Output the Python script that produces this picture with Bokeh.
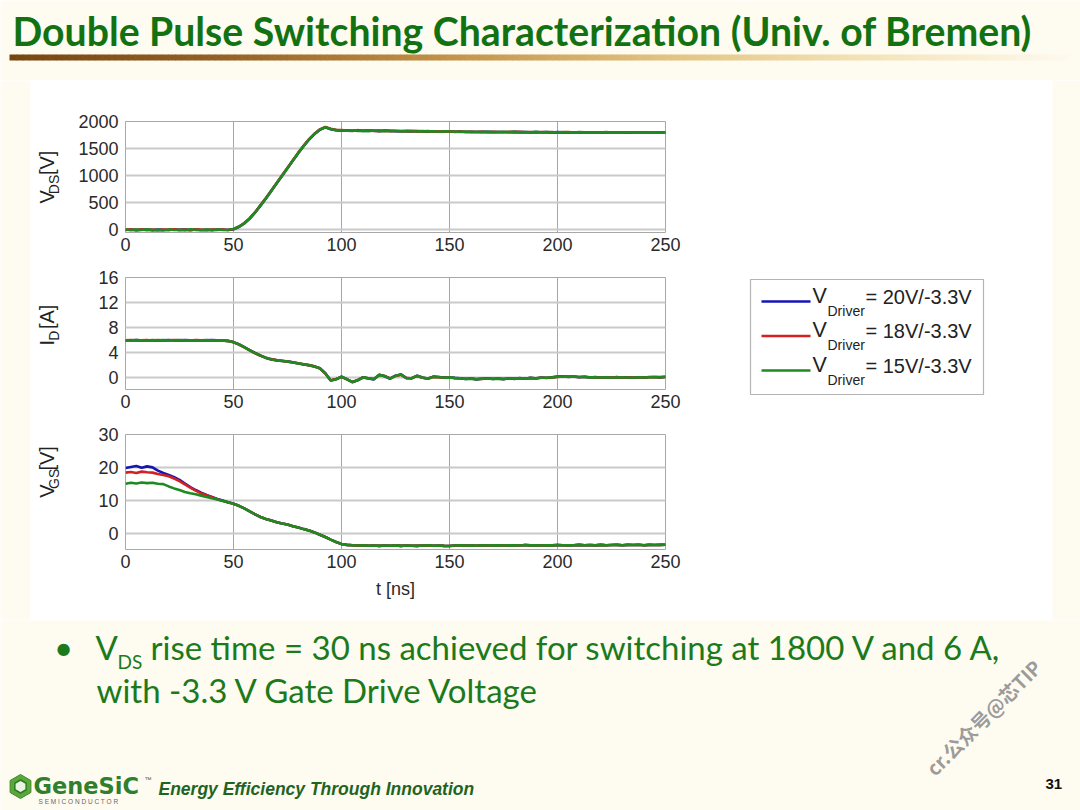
import numpy as np
from bokeh.plotting import figure
from bokeh.layouts import column, row
from bokeh.models import Range1d, FixedTicker
from bokeh.embed import file_html
from bokeh.resources import INLINE
from bokeh.core.properties import value

# ---------------- data ----------------
t_ns = [0, 2.5, 5, 7.5, 10, 12.5, 15, 17.5, 20, 22.5, 25, 27.5, 30, 32.5, 35, 37.5, 40, 42.5, 45, 47.5,
        50, 52.5, 55, 57.5, 60, 62.5, 65, 67.5, 70, 72.5, 75, 77.5, 80, 82.5, 85, 87.5, 90, 92.5, 95, 97.5,
        100, 102.5, 105, 107.5, 110, 112.5, 115, 117.5, 120, 122.5, 125, 127.5, 130, 132.5, 135, 137.5,
        140, 142.5, 145, 147.5, 150, 152.5, 155, 157.5, 160, 162.5, 165, 167.5, 170, 172.5, 175, 177.5,
        180, 182.5, 185, 187.5, 190, 192.5, 195, 197.5, 200, 202.5, 205, 207.5, 210, 212.5, 215, 217.5,
        220, 222.5, 225, 227.5, 230, 232.5, 235, 237.5, 240, 242.5, 245, 247.5, 250]

vds_15 = [5, -8, 3, -5, 8, -3, 0, -10, 6, -4, 2, -6, 9, -2, -7, 4, -3, 6, -5, 2,
          15, 55, 120, 210, 320, 450, 580, 720, 860, 1000, 1140, 1280, 1420, 1550, 1670, 1770, 1850, 1895, 1860, 1840,
          1835, 1828, 1838, 1825, 1832, 1822, 1835, 1827, 1820, 1830, 1824, 1818, 1826, 1820, 1815, 1822,
          1817, 1820, 1812, 1818, 1815, 1812, 1808, 1815, 1806, 1810, 1804, 1812, 1807, 1803, 1809, 1805,
          1811, 1800, 1806, 1802, 1808, 1799, 1805, 1801, 1798, 1806, 1800, 1796, 1803, 1799, 1795, 1801,
          1797, 1804, 1794, 1799, 1796, 1801, 1793, 1798, 1795, 1800, 1794, 1797, 1799]
vds_18 = [0, 6, -4, 7, -6, 3, -8, 4, -2, 7, -5, 3, -4, 8, 1, -6, 5, -2, 4, -3,
          12, 60, 125, 215, 325, 455, 585, 725, 865, 1005, 1145, 1285, 1425, 1555, 1675, 1775, 1855, 1898, 1865, 1845,
          1840, 1832, 1826, 1840, 1828, 1836, 1824, 1832, 1825, 1822, 1830, 1821, 1819, 1827, 1818, 1816,
          1823, 1814, 1820, 1811, 1817, 1809, 1816, 1805, 1812, 1807, 1811, 1802, 1809, 1806, 1801, 1810,
          1803, 1808, 1801, 1804, 1797, 1807, 1800, 1803, 1796, 1802, 1805, 1797, 1800, 1794, 1802, 1798,
          1800, 1795, 1802, 1797, 1792, 1800, 1796, 1794, 1799, 1793, 1798, 1796, 1795]
vds_20 = [-3, 4, -6, 2, 5, -7, 3, -2, -5, 6, -1, 4, -8, 5, -3, 2, -6, 3, 0, -4,
          10, 52, 118, 206, 318, 446, 578, 716, 858, 998, 1138, 1278, 1418, 1548, 1668, 1768, 1848, 1892, 1858, 1838,
          1832, 1836, 1829, 1834, 1826, 1831, 1828, 1823, 1833, 1826, 1820, 1825, 1822, 1817, 1824, 1819,
          1815, 1821, 1814, 1816, 1813, 1810, 1813, 1807, 1811, 1805, 1809, 1808, 1804, 1807, 1806, 1802,
          1809, 1803, 1805, 1800, 1806, 1802, 1803, 1798, 1804, 1799, 1801, 1798, 1800, 1797, 1798, 1796,
          1799, 1801, 1796, 1797, 1798, 1795, 1797, 1796, 1798, 1796, 1795, 1798, 1797]

id_15 = [5.92, 5.88, 5.95, 5.90, 5.86, 5.93, 5.89, 5.94, 5.87, 5.91, 5.96, 5.88, 5.92, 5.85, 5.90, 5.93, 5.88, 5.91, 5.86, 5.80,
         5.60, 5.25, 4.80, 4.30, 3.85, 3.45, 3.10, 2.85, 2.70, 2.60, 2.50, 2.35, 2.20, 2.05, 1.90, 1.70, 1.40, 0.60, -0.55, -0.35,
         0.05, -0.35, -0.80, -0.50, -0.05, -0.20, -0.35, 0.35, 0.15, -0.25, 0.20, 0.40, -0.15, -0.20, 0.20, -0.10,
         -0.25, 0.05, 0.00, -0.10, -0.05, -0.15, -0.20, -0.30, -0.25, -0.35, -0.28, -0.22, -0.30, -0.25, -0.32, -0.20,
         -0.28, -0.18, -0.25, -0.15, -0.20, -0.10, -0.12, -0.05, 0.05, 0.10, 0.05, 0.08, 0.00, 0.03, -0.05, -0.02,
         -0.08, -0.05, -0.10, -0.03, -0.08, -0.06, -0.10, -0.04, -0.07, -0.02, 0.00, -0.03, 0.02]
id_18 = [5.90, 5.94, 5.87, 5.92, 5.95, 5.88, 5.93, 5.86, 5.91, 5.94, 5.89, 5.92, 5.87, 5.93, 5.90, 5.86, 5.92, 5.88, 5.90, 5.78,
         5.58, 5.22, 4.78, 4.28, 3.82, 3.43, 3.12, 2.88, 2.72, 2.62, 2.48, 2.33, 2.22, 2.07, 1.88, 1.72, 1.38, 0.58, -0.52, -0.32,
         0.02, -0.38, -0.78, -0.48, -0.08, -0.18, -0.32, 0.32, 0.18, -0.22, 0.18, 0.38, -0.12, -0.22, 0.18, -0.12,
         -0.22, 0.02, -0.03, -0.12, -0.08, -0.18, -0.22, -0.28, -0.27, -0.32, -0.30, -0.24, -0.28, -0.27, -0.30, -0.22,
         -0.25, -0.20, -0.22, -0.17, -0.18, -0.12, -0.10, -0.07, 0.03, 0.08, 0.07, 0.05, 0.02, 0.00, -0.03, -0.05,
         -0.06, -0.08, -0.07, -0.05, -0.06, -0.08, -0.07, -0.06, -0.05, -0.04, -0.02, -0.01, 0.00]
id_20 = [5.88, 5.91, 5.93, 5.87, 5.90, 5.92, 5.86, 5.91, 5.93, 5.88, 5.90, 5.94, 5.89, 5.91, 5.87, 5.90, 5.93, 5.89, 5.88, 5.82,
         5.62, 5.27, 4.82, 4.32, 3.87, 3.47, 3.08, 2.83, 2.68, 2.58, 2.52, 2.37, 2.18, 2.03, 1.92, 1.68, 1.42, 0.62, -0.57, -0.37,
         0.07, -0.33, -0.82, -0.52, -0.03, -0.22, -0.37, 0.37, 0.13, -0.27, 0.22, 0.42, -0.17, -0.18, 0.22, -0.08,
         -0.27, 0.07, 0.02, -0.08, -0.03, -0.13, -0.18, -0.32, -0.23, -0.37, -0.26, -0.20, -0.32, -0.23, -0.34, -0.18,
         -0.30, -0.16, -0.27, -0.13, -0.22, -0.08, -0.14, -0.03, 0.07, 0.12, 0.03, 0.10, -0.02, 0.05, -0.07, 0.00,
         -0.10, -0.03, -0.12, -0.01, -0.10, -0.04, -0.12, -0.02, -0.09, 0.00, 0.02, -0.05, 0.04]

vgs_head_20 = [19.8, 20.1, 20.4, 19.9, 20.3, 20.0, 19.0, 18.3, 17.7, 17.0, 16.2, 15.1, 14.0, 13.1, 12.3, 11.6, 11.0, 10.4, 9.9, 9.4]
vgs_head_18 = [18.4, 18.6, 18.3, 18.7, 18.5, 18.4, 18.0, 17.7, 17.3, 16.6, 15.8, 14.8, 13.8, 12.9, 12.1, 11.5, 10.9, 10.3, 9.8, 9.3]
vgs_head_15 = [15.0, 15.3, 15.1, 15.4, 15.2, 15.3, 15.0, 14.9, 14.2, 13.6, 13.1, 12.5, 12.1, 11.8, 11.4, 11.0, 10.6, 10.2, 9.8, 9.4]
vgs_tail = [8.9, 8.3, 7.5, 6.6, 5.7, 4.9, 4.3, 3.8, 3.3, 2.9, 2.6, 2.1, 1.7, 1.2, 0.8, 0.2, -0.5, -1.2, -2.0, -2.7,
            -3.3, -3.6,
            -3.7, -3.8, -3.75, -3.85, -3.8, -3.9, -3.8, -3.85, -3.75, -3.9,
            -3.8, -3.85, -3.9, -3.8, -3.75, -3.85, -3.8, -3.9, -3.95, -3.8,
            -3.7, -3.8, -3.75, -3.85, -3.7, -3.8, -3.75, -3.7, -3.8, -3.75,
            -3.7, -3.8, -3.65, -3.75, -3.7, -3.8, -3.7, -3.75, -3.65, -3.7,
            -3.75, -3.7, -3.6, -3.7, -3.65, -3.75, -3.6, -3.7, -3.65, -3.6,
            -3.7, -3.6, -3.65, -3.55, -3.7, -3.6, -3.65, -3.6, -3.55]
vgs_20 = vgs_head_20 + vgs_tail
vgs_18 = vgs_head_18 + vgs_tail
vgs_15 = vgs_head_15 + vgs_tail

x_ticks = [0, 50, 100, 150, 200, 250]
vds_ticks = [0, 500, 1000, 1500, 2000]
id_ticks = [0, 4, 8, 12, 16]
vgs_ticks = [0, 10, 20, 30]

series_colors = ["#1515b4", "#d42020", "#1f8a1f"]
series_labels = ["= 20V/-3.3V", "= 18V/-3.3V", "= 15V/-3.3V"]

TITLE = "Double Pulse Switching Characterization (Univ. of Bremen)"
BULLET_1 = "rise time = 30 ns achieved for switching at 1800 V and 6 A,"
BULLET_2 = "with -3.3 V Gate Drive Voltage"
FOOTER = "Energy Efficiency Through Innovation"
PAGE = "31"
WATERMARK = "cr.公众号@芯TIP"

# ---------------- styling ----------------
CREAM = "#fefbf1"
WHITE = "#ffffff"
GREEN_T = "#127212"
GREEN_B = "#1b7a1b"
AX_FONT = "Liberation Sans"
BASE_K = {"Liberation Sans": 0.35, "Lato": 0.39, "DejaVu Sans": 0.35, "Noto Sans CJK SC": 0.38}


def deco_fig(w, h, x0, x1, y0, y1, bg):
    p = figure(width=w, height=h, x_range=Range1d(x0, x1), y_range=Range1d(y1, y0),
               output_backend="svg", toolbar_location=None, min_border=0,
               x_axis_location=None, y_axis_location=None, outline_line_color=None,
               background_fill_color=bg, border_fill_color=bg)
    p.grid.visible = False
    return p


def txt(p, x, y, s, size, color="#222222", font=AX_FONT, style="normal", angle=0.0,
        align="left", alpha=1.0):
    px = float(size.replace("px", ""))
    k = BASE_K.get(font, 0.35) * px
    ax = x - k * np.sin(angle)
    ay = y - k * np.cos(angle)
    p.text(x=[ax], y=[ay], text=[s], text_font=value(font), text_font_size=size,
           text_font_style=style, text_color=color, angle=angle, text_align=align,
           text_baseline="alphabetic", text_alpha=alpha)


# ---------------- title band ----------------
top = deco_fig(1080, 80, 0, 1080, 0, 80, CREAM)
txt(top, 12, 45, TITLE, "39.2px", GREEN_T, font="Lato", style="bold")
stops_pos = [0.0, 0.2, 0.42, 0.62, 0.8, 1.0]
stops_rgb = np.array([[118, 70, 18], [148, 98, 38], [196, 148, 74], [226, 196, 130], [243, 226, 182], [254, 250, 238]])
n_seg = 160
edges = np.linspace(9, 1068, n_seg + 1)
fr = (np.arange(n_seg) + 0.5) / n_seg
cols = []
for f in fr:
    rgb = [int(np.interp(f, stops_pos, stops_rgb[:, k])) for k in range(3)]
    cols.append("#%02x%02x%02x" % tuple(rgb))
top.quad(left=edges[:-1], right=edges[1:] + 0.6, top=54, bottom=60, fill_color=cols, line_color=None)


# ---------------- panels ----------------
def panel(h, b_top, b_bottom, yr, yticks):
    p = figure(width=626, height=h, x_range=Range1d(0, 250), y_range=Range1d(*yr),
               min_border_left=61, min_border_right=25, min_border_top=b_top, min_border_bottom=b_bottom,
               output_backend="svg", toolbar_location=None,
               background_fill_color=WHITE, border_fill_color=WHITE,
               outline_line_color="#a8a8a8", outline_line_width=1)
    p.xaxis.ticker = FixedTicker(ticks=x_ticks)
    p.yaxis.ticker = FixedTicker(ticks=yticks)
    for ax in (p.xaxis[0], p.yaxis[0]):
        ax.axis_line_color = None
        ax.major_tick_line_color = None
        ax.minor_tick_line_color = None
        ax.major_tick_out = 0
        ax.major_tick_in = 0
        ax.major_label_text_font = AX_FONT
        ax.major_label_text_font_size = "18px"
        ax.major_label_text_color = "#2a2a2a"
    p.xaxis.major_label_standoff = 5
    p.yaxis.major_label_standoff = 7
    p.xgrid.grid_line_color = "#a6a6a6"
    p.xgrid.grid_line_width = 1
    p.ygrid.grid_line_color = "#cacaca"
    p.ygrid.grid_line_width = 2
    return p


p1 = panel(182, 41, 30, (-50, 2000), vds_ticks)
p2 = panel(156, 15, 29, (-2, 16), id_ticks)
p3 = panel(202, 16, 71, (-5, 30), vgs_ticks)
p3.xaxis.axis_label = "t [ns]"
p3.xaxis.axis_label_text_font = AX_FONT
p3.xaxis.axis_label_text_font_size = "18px"
p3.xaxis.axis_label_text_font_style = "normal"
p3.xaxis.axis_label_text_color = "#2a2a2a"
p3.xaxis.axis_label_standoff = 8

for p, sets in ((p1, (vds_20, vds_18, vds_15)), (p2, (id_20, id_18, id_15)), (p3, (vgs_20, vgs_18, vgs_15))):
    for ys, c in zip(sets, series_colors):
        p.line(t_ns, ys, line_color=c, line_width=2.6)


# rotated y labels (with subscripts); label strip uses an upward y range (0 at its bottom)
def ylabel_fig(h, y_top_ref, main, sub, unit, center_ref, g1, g2):
    f = figure(width=34, height=h, x_range=Range1d(30, 64), y_range=Range1d(0, h),
               output_backend="svg", toolbar_location=None, min_border=0,
               x_axis_location=None, y_axis_location=None, outline_line_color=None,
               background_fill_color=WHITE, border_fill_color=WHITE)
    f.grid.visible = False
    c_up = h - (center_ref - y_top_ref)
    w_main = 13.3 if main == "V" else 5.6
    w_sub = {"DS": 19.4, "D": 10.1, "GS": 20.2}[sub]
    w_unit = 24.4
    total = w_main + g1 + w_sub + g2 + w_unit
    start = c_up - total / 2
    pieces = [(main, "20px", 53, start),
              (sub, "14px", 58.5, start + w_main + g1),
              ("[" + unit + "]", "20px", 53, start + w_main + g1 + w_sub + g2)]
    for s, size, xb, ys in pieces:
        k = 0.35 * float(size.replace("px", ""))
        f.text(x=[xb - k], y=[ys], text=[s], text_font=value(AX_FONT), text_font_size=size,
               text_color="#222222", angle=np.pi / 2, text_align="left", text_baseline="alphabetic")
    return f


l1 = ylabel_fig(182, 80, "V", "DS", "V", 179, 2.0, 12.0)
l2 = ylabel_fig(156, 262, "I", "D", "A", 333, 1.0, 6.0)
l3 = ylabel_fig(202, 418, "V", "GS", "V", 493, 2.0, 12.0)

charts = column(row(l1, p1), row(l2, p2), row(l3, p3))

# ---------------- legend area ----------------
left_pad = deco_fig(30, 540, 0, 30, 80, 620, CREAM)
right = deco_fig(390, 540, 690, 1080, 80, 620, WHITE)
right.quad(left=[1052], right=[1080], top=[80], bottom=[620], fill_color=CREAM, line_color=None)
right.quad(left=[750], right=[983], top=[279], bottom=[394], fill_color=WHITE, line_color="#b4b4b4", line_width=1.2)
for i, (c, lab) in enumerate(zip(series_colors, series_labels)):
    yb = 303 + 34.5 * i
    right.segment(x0=[761], x1=[810], y0=[yb - 2], y1=[yb - 2], line_color=c, line_width=2.4)
    txt(right, 812, yb, "V", "21.5px", "#222222")
    txt(right, 827, yb + 12, "Driver", "14px", "#222222")
    txt(right, 865, yb, lab, "20px", "#222222")

middle = row(left_pad, charts, right)

# ---------------- bullet + footer ----------------
bot = deco_fig(1080, 190, 0, 1080, 620, 810, CREAM)
txt(bot, 63, 659.5, "\u2022", "33px", GREEN_B, font="Lato", align="center")
txt(bot, 95, 659.5, "V", "33px", GREEN_B, font="Lato")
txt(bot, 117, 668.5, "DS", "19px", GREEN_B, font="Lato")
txt(bot, 150, 659.5, BULLET_1, "33px", GREEN_B, font="Lato")
txt(bot, 96, 702, BULLET_2, "33px", GREEN_B, font="Lato")

# logo
ang = np.linspace(0, 2 * np.pi, 7)[:-1] + np.pi / 6
bot.patch(20 + 12 * np.cos(ang), 786 + 12 * np.sin(ang), fill_color="#5aa83c", line_color="#3d8a2a")
bot.patch(20 + 6.5 * np.cos(ang), 786 + 6.5 * np.sin(ang), fill_color="#e8f4e0", line_color="#2f7a22", line_width=1.5)
txt(bot, 33, 793, "GeneSiC", "22.5px", "#2f7f2f", font="DejaVu Sans", style="bold")
txt(bot, 144, 781, "\u2122", "7px", "#555555")
txt(bot, 38, 803, "S E M I C O N D U C T O R", "6.5px", "#666666")
txt(bot, 158, 795, FOOTER, "17.5px", "#1f641f", style="bold italic")
txt(bot, 1045, 789, PAGE, "15px", "#111111", style="bold")
txt(bot, 934, 776, WATERMARK, "19.5px", "#8a8a8a", font="Noto Sans CJK SC", style="bold", angle=np.pi / 4, alpha=0.85)

layout = column(top, middle, bot)

open("out.html", "w").write(file_html(layout, INLINE))
